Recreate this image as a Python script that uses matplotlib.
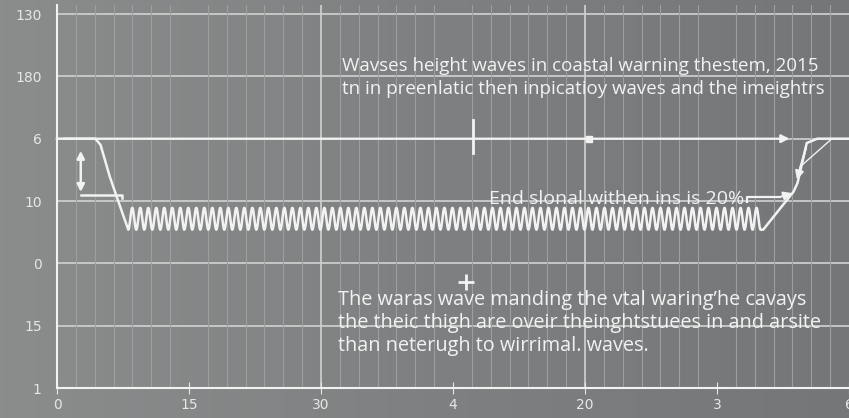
import numpy as np
import matplotlib.pyplot as plt
from matplotlib.colors import LinearSegmentedColormap

# y tick labels (bottom to top)
y_pos = [0, 1, 2, 3, 4, 5, 6]
y_labels = ["1", "15", "0", "10", "6", "180", "130"]
x_pos = [0, 1, 2, 3, 4, 5, 6]
x_labels = ["0", "15", "30", "4", "20", "3", "6"]

# main wave line: drop from the 4 level to the ripple band
drop_x = [0.0, 0.29, 0.33, 0.40, 0.48, 0.54]
drop_y = [4.0, 4.0, 3.9, 3.39, 2.9, 2.54]
# ripple band
ripple_start, ripple_end = 0.54, 5.33
ripple_low, ripple_high = 2.54, 2.89
ripple_cycles = 79
# rise back up on the right
rise_x = [5.35, 5.58, 5.61, 5.68, 5.76, 6.0]
rise_y = [2.54, 3.15, 3.29, 3.93, 4.0, 4.0]
thin_x = [5.63, 5.86]
thin_y = [3.55, 3.98]

BG = "#7f8182"
FG = "#f2f2f2"
GRID = "#cbcdcd"

fig = plt.figure(figsize=(8.49, 4.18), dpi=100, facecolor=BG)

# soft left-to-right shading of the background
shade = LinearSegmentedColormap.from_list("shade", ["#8b8d8d", "#7e8081", "#747677"])
bg = fig.add_axes([0, 0, 1, 1])
bg.imshow(np.linspace(0, 1, 256)[None, :], aspect="auto", cmap=shade,
          extent=[0, 1, 0, 1])
bg.set_axis_off()

ax = fig.add_axes([57 / 849, 30 / 418, 792 / 849, 6.15 * 62.33 / 418])
ax.patch.set_alpha(0)
ax.set_xlim(0, 6)
ax.set_ylim(0, 6.15)

# grid
ax.set_xticks(np.arange(0, 6, 1 / 7), minor=True)
ax.grid(True, which="minor", axis="x", color="#9c9e9f", lw=0.8)
for y in y_pos[1:]:
    ax.axhline(y, color=GRID, lw=1.3, zorder=1)
for x in [2, 4]:
    ax.axvline(x, color=GRID, lw=1.3, zorder=1)

for s in ["top", "right"]:
    ax.spines[s].set_visible(False)
ax.spines["left"].set_color(FG)
ax.spines["bottom"].set_color(FG)
ax.spines["left"].set_linewidth(1.5)
ax.spines["bottom"].set_linewidth(1.5)

ax.set_yticks(y_pos)
ax.set_yticklabels(y_labels)
ax.set_xticks(x_pos)
ax.set_xticklabels(x_labels)
ax.tick_params(axis="y", length=0, colors="#e6e6e6", labelsize=10, pad=11)
ax.tick_params(axis="x", which="major", direction="inout", length=9,
               color="#e6e6e6", colors="#e6e6e6", labelsize=10, pad=3)
ax.tick_params(axis="x", which="minor", length=0)

# wave
t = np.linspace(ripple_start, ripple_end, 2400)
mid = (ripple_low + ripple_high) / 2
amp = (ripple_high - ripple_low) / 2
ripple = mid - amp * np.cos(2 * np.pi * ripple_cycles * (t - ripple_start) / (ripple_end - ripple_start))
wx = np.concatenate([drop_x, t, rise_x])
wy = np.concatenate([drop_y, ripple, rise_y])
ax.plot(wx, wy, color=FG, lw=1.8, zorder=4, clip_on=False)
ax.plot(thin_x, thin_y, color=FG, lw=1.0, zorder=4)

# arrows
arrow = dict(arrowstyle="-|>", color=FG, lw=1.6, mutation_scale=12)
ax.annotate("", xy=(5.57, 4.0), xytext=(0.03, 4.0), arrowprops=arrow, zorder=5)
ax.annotate("", xy=(5.6, 3.3), xytext=(5.68, 3.9), arrowprops=arrow, zorder=5)
ax.plot([5.23, 5.23, 5.48], [2.98, 3.06, 3.06], color=FG, lw=1.6, zorder=5)
ax.annotate("", xy=(5.59, 3.14), xytext=(5.47, 3.06), arrowprops=arrow, zorder=5)
ax.annotate("", xy=(0.18, 3.85), xytext=(0.18, 3.1),
            arrowprops=dict(arrowstyle="<|-|>", color=FG, lw=1.8, mutation_scale=11), zorder=5)
ax.plot([0.18, 0.49, 0.49], [3.1, 3.1, 3.05], color=FG, lw=1.8, zorder=5)

# markers
ax.plot([3.15, 3.15], [4.3, 3.77], color=FG, lw=2.0, zorder=5)
ax.plot([4.03], [4.0], marker="s", color=FG, ms=5, zorder=5)
ax.plot([3.1], [1.7], marker="+", color=FG, ms=12, mew=2, zorder=5)

# texts
ax.text(2.16, 4.98, "Wavses height waves in coastal warning thestem, 2015\n"
        "tn in preenlatic then inpicatioy waves and the imeightrs",
        color=FG, fontsize=13.5, family="Open Sans",
        ha="left", va="center", linespacing=1.3)
ax.text(3.27, 3.03, "End slonal withen ins is 20%", color=FG, fontsize=14,
        family="Open Sans", ha="left", va="center")
ax.text(2.13, 1.04, "The waras wave manding the vtal waring\u2019he cavays\n"
        "the theic thigh are oveir theinghtstuees in and arsite\n"
        "than neterugh to wirrimal. waves.",
        color=FG, fontsize=14.3, family="Open Sans", ha="left", va="center",
        linespacing=1.2)

fig.savefig("out.png", dpi=100, facecolor=BG)
